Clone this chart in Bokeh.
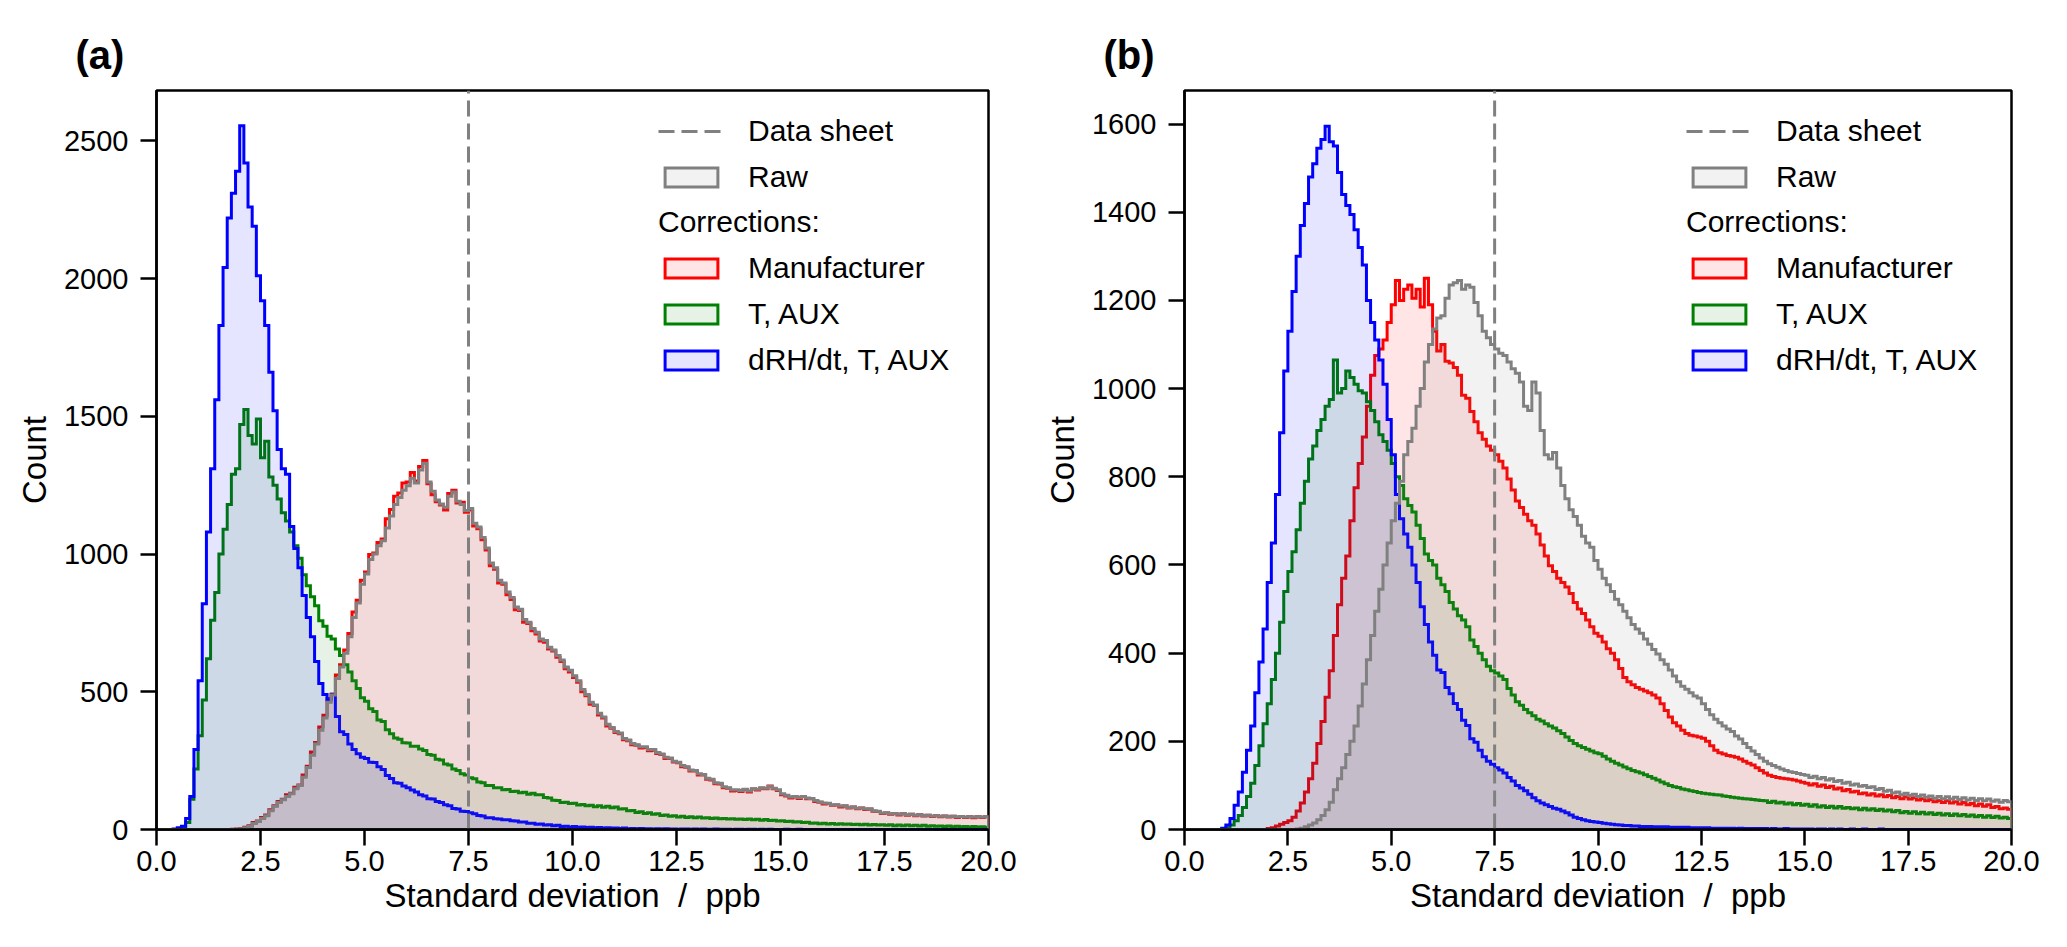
import numpy as np
from bokeh.plotting import figure
from bokeh.models import (ColumnDataSource, Range1d, FixedTicker, PrintfTickFormatter,
                          Legend, LegendItem)
from bokeh.layouts import row
from bokeh.embed import file_html
from bokeh.resources import INLINE

FONT = "Liberation Sans"

# histogram bins: 0.1 ppb wide, 0 .. 20 ppb
BIN_WIDTH = 0.1
edges = np.round(np.arange(201) * BIN_WIDTH, 1)

x_ticks = [0, 2.5, 5, 7.5, 10, 12.5, 15, 17.5, 20]
datasheet_sd = 7.5

# ---------------- panel (a) counts per bin ----------------
a_raw = [
    0, 0, 0, 0, 0, 0, 0, 0, 0, 0,
    0, 0, 0, 0, 0, 0, 0, 0, 0, 1,
    3, 6, 12, 22, 30, 40, 50, 68, 84, 98,
    108, 120, 130, 148, 160, 190, 225, 270, 310, 360,
    405, 462, 488, 548, 590, 640, 700, 770, 822, 890,
    928, 980, 1000, 1030, 1048, 1095, 1138, 1180, 1205, 1232,
    1248, 1275, 1258, 1305, 1330, 1262, 1228, 1196, 1182, 1170,
    1210, 1225, 1192, 1180, 1158, 1165, 1112, 1098, 1060, 1022,
    968, 950, 905, 895, 862, 842, 808, 800, 762, 752,
    730, 716, 692, 686, 662, 652, 632, 615, 590, 578,
    558, 540, 508, 490, 462, 452, 422, 408, 382, 370,
    356, 350, 330, 325, 312, 308, 300, 300, 290, 290,
    280, 274, 262, 260, 248, 244, 232, 228, 216, 214,
    202, 200, 186, 182, 170, 168, 155, 152, 144, 144,
    142, 146, 140, 148, 146, 152, 150, 156, 150, 144,
    130, 124, 118, 120, 116, 120, 114, 113, 105, 100,
    96, 95, 90, 90, 85, 86, 80, 82, 77, 78,
    75, 74, 68, 66, 60, 61, 57, 58, 55, 57,
    54, 55, 52, 54, 50, 52, 49, 50, 48, 49,
    47, 48, 46, 47, 45, 46, 45, 46, 45, 46,
]
a_manuf = [
    0, 0, 0, 0, 0, 0, 0, 0, 0, 0,
    0, 0, 0, 0, 0, 0, 0, 0, 1, 2,
    4, 8, 14, 25, 31, 44, 53, 72, 86, 102,
    110, 126, 132, 153, 162, 198, 230, 281, 316, 372,
    415, 476, 492, 561, 598, 652, 712, 790, 832, 905,
    935, 998, 1004, 1042, 1055, 1128, 1162, 1210, 1222, 1258,
    1262, 1296, 1265, 1318, 1340, 1255, 1215, 1190, 1178, 1160,
    1220, 1232, 1185, 1188, 1152, 1160, 1102, 1092, 1052, 1015,
    958, 945, 895, 890, 852, 835, 798, 795, 752, 748,
    722, 710, 684, 680, 655, 648, 625, 610, 584, 572,
    552, 535, 500, 486, 455, 450, 416, 405, 376, 368,
    352, 348, 326, 322, 308, 306, 296, 298, 286, 288,
    276, 272, 258, 258, 245, 242, 228, 226, 212, 212,
    198, 198, 182, 180, 166, 165, 152, 150, 140, 142,
    138, 145, 136, 147, 143, 150, 148, 158, 148, 142,
    126, 122, 114, 119, 113, 120, 112, 112, 102, 99,
    93, 94, 88, 89, 82, 85, 78, 82, 75, 78,
    73, 74, 66, 65, 58, 60, 55, 58, 53, 57,
    52, 55, 50, 54, 49, 52, 47, 50, 46, 49,
    45, 48, 44, 47, 44, 46, 43, 46, 44, 46,
]
a_taux = [
    0, 0, 0, 0, 0, 0, 3, 25, 110, 220,
    340, 470, 620, 760, 860, 1000, 1090, 1180, 1290, 1310,
    1470, 1525, 1430, 1400, 1490, 1350, 1410, 1280, 1250, 1200,
    1150, 1120, 1080, 1030, 985, 925, 885, 845, 812, 758,
    738, 702, 692, 655, 632, 598, 572, 540, 512, 478,
    466, 438, 428, 398, 392, 362, 348, 332, 328, 315,
    314, 302, 302, 292, 287, 272, 270, 255, 252, 238,
    234, 220, 214, 202, 198, 188, 184, 172, 170, 160,
    160, 152, 152, 144, 145, 138, 139, 133, 135, 128,
    132, 126, 126, 116, 114, 106, 105, 98, 99, 94,
    95, 89, 91, 86, 88, 83, 86, 81, 84, 79,
    82, 74, 75, 68, 69, 62, 64, 58, 61, 55,
    57, 51, 53, 48, 50, 45, 48, 44, 46, 43,
    45, 42, 43, 40, 42, 39, 40, 38, 39, 37,
    38, 36, 38, 35, 37, 34, 36, 33, 34, 31,
    32, 29, 30, 27, 28, 25, 26, 23, 24, 21,
    23, 20, 22, 19, 21, 19, 20, 18, 19, 17,
    19, 16, 18, 16, 17, 15, 17, 14, 16, 14,
    16, 14, 15, 13, 15, 12, 14, 12, 13, 11,
    13, 10, 12, 10, 11, 9, 11, 9, 10, 8,
]
a_drh = [
    0, 0, 0, 0, 2, 6, 12, 40, 120, 290,
    540, 820, 1080, 1310, 1560, 1830, 2040, 2220, 2310, 2390,
    2555, 2420, 2260, 2190, 2010, 1920, 1830, 1660, 1520, 1380,
    1310, 1290, 1100, 1020, 950, 850, 770, 700, 610, 530,
    490, 470, 490, 410, 355, 345, 310, 290, 275, 262,
    258, 244, 243, 228, 218, 196, 185, 170, 168, 158,
    152, 143, 136, 126, 122, 112, 111, 102, 98, 90,
    86, 76, 74, 66, 65, 61, 57, 51, 49, 43,
    43, 39, 38, 35, 35, 32, 31, 27, 27, 23,
    23, 19, 20, 16, 17, 14, 15, 11, 12, 9,
    11, 8, 9, 7, 8, 6, 7, 5, 6, 5,
    5, 4, 5, 3, 4, 3, 4, 3, 3, 2,
    3, 2, 3, 2, 2, 1, 2, 2, 1, 2,
    1, 2, 1, 1, 2, 1, 1, 1, 0, 1,
    1, 0, 1, 1, 0, 1, 0, 1, 0, 0,
    0, 1, 0, 0, 1, 0, 0, 0, 0, 0,
    0, 0, 0, 0, 0, 0, 0, 0, 0, 0,
    0, 0, 0, 0, 0, 0, 0, 0, 0, 0,
    0, 0, 0, 0, 0, 0, 0, 0, 0, 0,
    0, 0, 0, 0, 0, 0, 0, 0, 0, 0,
]
a_ymax = 2683
a_yticks = [0, 500, 1000, 1500, 2000, 2500]

# ---------------- panel (b) counts per bin ----------------
b_raw = [
    0, 0, 0, 0, 0, 0, 0, 0, 0, 0,
    0, 0, 0, 0, 0, 0, 0, 0, 0, 0,
    0, 0, 0, 0, 0, 0, 0, 1, 3, 6,
    10, 15, 22, 32, 45, 62, 90, 115, 140, 170,
    200, 235, 280, 330, 385, 440, 495, 545, 600, 650,
    700, 740, 790, 850, 880, 910, 960, 1000, 1060, 1100,
    1135, 1160, 1165, 1205, 1235, 1240, 1245, 1225, 1235, 1230,
    1195, 1165, 1130, 1115, 1100, 1090, 1080, 1075, 1060, 1045,
    1035, 1015, 960, 950, 1015, 990, 905, 850, 840, 855,
    820, 780, 750, 725, 710, 690, 665, 650, 640, 610,
    590, 570, 555, 540, 522, 510, 495, 480, 465, 455,
    445, 432, 420, 408, 398, 385, 375, 362, 348, 335,
    325, 318, 310, 303, 298, 285, 272, 260, 250, 242,
    235, 228, 222, 212, 205, 195, 186, 178, 170, 162,
    155, 149, 145, 141, 137, 134, 131, 129, 127, 125,
    123, 118, 121, 115, 118, 112, 115, 109, 111, 105,
    107, 101, 103, 98, 100, 95, 97, 91, 93, 87,
    89, 83, 85, 79, 82, 77, 80, 75, 78, 73,
    76, 71, 75, 70, 74, 69, 73, 68, 72, 67,
    71, 66, 70, 65, 69, 64, 67, 62, 66, 63,
]
b_manuf = [
    0, 0, 0, 0, 0, 0, 0, 0, 0, 0,
    0, 0, 0, 0, 0, 0, 0, 0, 0, 0,
    2, 4, 8, 12, 16, 20, 28, 42, 60, 85,
    115, 150, 195, 245, 300, 360, 440, 510, 570, 620,
    700, 775, 830, 890, 960, 1030, 1075, 1090, 1110, 1150,
    1190, 1245, 1200, 1225, 1235, 1205, 1225, 1185, 1250, 1190,
    1130, 1085, 1100, 1062, 1058, 1048, 1030, 985, 978, 948,
    925, 900, 885, 870, 860, 850, 835, 820, 795, 770,
    745, 730, 715, 700, 690, 670, 645, 620, 598, 585,
    570, 560, 550, 535, 515, 500, 490, 475, 460, 445,
    438, 425, 410, 400, 385, 365, 345, 335, 328, 322,
    318, 314, 310, 305, 298, 285, 270, 255, 242, 235,
    225, 218, 214, 212, 210, 207, 200, 190, 180, 174,
    171, 168, 166, 164, 160, 155, 150, 146, 140, 134,
    128, 123, 120, 118, 116, 115, 114, 112, 110, 107,
    105, 101, 104, 98, 101, 95, 98, 92, 94, 88,
    91, 85, 87, 81, 83, 78, 81, 76, 79, 74,
    77, 72, 75, 70, 74, 69, 72, 67, 70, 65,
    68, 63, 66, 61, 65, 60, 63, 58, 61, 56,
    59, 54, 58, 53, 56, 50, 52, 47, 49, 46,
]
b_taux = [
    0, 0, 0, 0, 0, 0, 0, 0, 0, 1,
    4, 10, 20, 32, 50, 75, 105, 145, 190, 240,
    285, 340, 400, 470, 540, 585, 630, 680, 740, 790,
    840, 870, 905, 930, 960, 975, 1065, 990, 1000, 1040,
    1025, 1010, 995, 990, 970, 950, 925, 895, 880, 860,
    830, 800, 780, 750, 735, 720, 690, 660, 625, 610,
    600, 570, 555, 540, 515, 500, 485, 475, 460, 430,
    415, 400, 385, 370, 360, 355, 348, 340, 320, 305,
    290, 282, 272, 265, 258, 250, 246, 240, 235, 230,
    224, 218, 210, 202, 195, 190, 186, 182, 178, 174,
    172, 166, 160, 155, 150, 146, 142, 138, 134, 131,
    128, 124, 120, 116, 112, 108, 104, 100, 97, 95,
    92, 90, 88, 86, 84, 82, 81, 80, 79, 78,
    76, 75, 73, 72, 71, 70, 69, 68, 67, 66,
    65, 61, 64, 60, 62, 58, 60, 56, 59, 55,
    57, 53, 56, 51, 54, 50, 53, 49, 52, 48,
    50, 47, 49, 45, 48, 44, 47, 43, 46, 42,
    44, 40, 43, 38, 41, 37, 40, 36, 39, 35,
    38, 34, 37, 33, 36, 32, 35, 31, 34, 30,
    33, 29, 32, 28, 31, 27, 30, 26, 28, 25,
]
b_drh = [
    0, 0, 0, 0, 0, 0, 0, 0, 0, 3,
    10, 25, 55, 85, 130, 180, 235, 310, 380, 455,
    560, 650, 760, 900, 1040, 1130, 1220, 1300, 1370, 1420,
    1480, 1510, 1545, 1565, 1595, 1560, 1550, 1490, 1440, 1415,
    1395, 1360, 1320, 1280, 1200, 1150, 1110, 1065, 1010, 930,
    850, 760, 705, 670, 640, 600, 560, 505, 465, 425,
    395, 362, 356, 322, 308, 286, 272, 248, 236, 206,
    198, 180, 165, 155, 148, 140, 135, 128, 118, 110,
    100, 94, 88, 80, 72, 65, 60, 56, 52, 48,
    46, 42, 38, 33, 28, 25, 22, 20, 18, 17,
    16, 14, 13, 12, 11, 10, 9, 9, 8, 8,
    7, 7, 7, 6, 6, 6, 6, 5, 5, 5,
    5, 5, 4, 4, 4, 4, 4, 3, 3, 3,
    3, 3, 3, 2, 3, 2, 2, 2, 2, 2,
    2, 1, 2, 1, 1, 2, 1, 1, 1, 1,
    1, 1, 0, 1, 1, 0, 1, 0, 1, 0,
    0, 1, 0, 0, 1, 0, 0, 0, 1, 0,
    0, 0, 0, 0, 0, 0, 0, 0, 0, 0,
    0, 0, 0, 0, 0, 0, 0, 0, 0, 0,
    0, 0, 0, 0, 0, 0, 0, 0, 0, 0,
]
b_ymax = 1676
b_yticks = [0, 200, 400, 600, 800, 1000, 1200, 1400, 1600]

styles = {
    "Manufacturer": "#ff0000",
    "T, AUX": "#008000",
    "dRH/dt, T, AUX": "#0000ff",
    "Raw": "#808080",
}


def step_outline(counts, base):
    xs, ys = [edges[0]], [base]
    for i, c in enumerate(counts):
        xs += [edges[i], edges[i + 1]]
        ys += [c, c]
    xs.append(edges[-1])
    ys.append(base)
    return xs, ys


def make_panel(tag, series, ymax, yticks, border_left, width):
    p = figure(width=width, height=947, output_backend="svg", toolbar_location=None,
               x_range=Range1d(0, 20), y_range=Range1d(0, ymax),
               min_border_left=border_left, min_border_right=width - border_left - 832,
               min_border_top=90, min_border_bottom=118)
    p.grid.visible = False
    p.outline_line_color = "black"
    p.outline_line_width = 2.5
    p.outline_line_alpha = 1

    # panel tag "(a)" / "(b)"
    p.title.text = tag
    p.title.align = "left"
    p.title.offset = -81
    p.title.standoff = 27
    p.title.text_font = FONT
    p.title.text_font_size = "40px"
    p.title.text_font_style = "bold"
    p.title.text_color = "black"

    renderers = {}
    base = -0.05 * ymax
    for label, counts in series:
        xs, ys = step_outline(counts, base)
        src = ColumnDataSource(dict(x=xs, y=ys))
        renderers[label] = p.patch("x", "y", source=src, fill_color=styles[label],
                                   fill_alpha=0.1, line_color=styles[label], line_width=3,
                                   line_join="miter")

    ds = p.line(x=[datasheet_sd, datasheet_sd], y=[0, ymax], line_color="#808080",
                line_width=3, line_dash="16 7")

    for ax in (p.xaxis[0], p.yaxis[0]):
        ax.axis_line_width = 2.5
        ax.axis_line_color = "black"
        ax.major_tick_line_width = 2.5
        ax.major_tick_line_color = "black"
        ax.major_tick_out = 16
        ax.major_tick_in = 0
        ax.minor_tick_out = 0
        ax.minor_tick_in = 0
        ax.major_label_text_font = FONT
        ax.major_label_text_font_size = "29px"
        ax.major_label_text_color = "black"
        ax.axis_label_text_font = FONT
        ax.axis_label_text_font_size = "33px"
        ax.axis_label_text_font_style = "normal"
        ax.axis_label_text_color = "black"

    p.xaxis.ticker = FixedTicker(ticks=x_ticks)
    p.xaxis.formatter = PrintfTickFormatter(format="%.1f")
    p.xaxis.major_label_standoff = 5
    p.xaxis.axis_label = "Standard deviation \u00a0/\u00a0 ppb"
    p.xaxis.axis_label_standoff = 3
    p.yaxis.ticker = FixedTicker(ticks=yticks)
    p.yaxis.major_label_standoff = 12
    p.yaxis.axis_label = "Count"
    p.yaxis.axis_label_standoff = 8

    common = dict(padding=0, margin=0, spacing=12, glyph_width=66, glyph_height=24,
                  label_height=34, label_standoff=24, label_text_font=FONT,
                  label_text_font_size="30px", label_text_color="black",
                  border_line_alpha=0, background_fill_alpha=0)
    leg1 = Legend(items=[LegendItem(label="Data sheet", renderers=[ds]),
                         LegendItem(label="Raw", renderers=[renderers["Raw"]])],
                  location=(502, 635), **common)
    leg2 = Legend(items=[LegendItem(label=k, renderers=[renderers[k]])
                         for k in ("Manufacturer", "T, AUX", "dRH/dt, T, AUX")],
                  title="Corrections:", title_text_font=FONT, title_text_font_size="30px",
                  title_text_font_style="normal", title_text_color="black",
                  title_standoff=12, location=(502, 452), **common)
    p.add_layout(leg1)
    p.add_layout(leg2)
    return p


order = ["Manufacturer", "T, AUX", "dRH/dt, T, AUX", "Raw"]
pa = make_panel("(a)", list(zip(order, [a_manuf, a_taux, a_drh, a_raw])),
                a_ymax, a_yticks, 156, 1040)
pb = make_panel("(b)", list(zip(order, [b_manuf, b_taux, b_drh, b_raw])),
                b_ymax, b_yticks, 139, 1027)

layout = row(pa, pb)
open("out.html", "w").write(file_html(layout, INLINE))
